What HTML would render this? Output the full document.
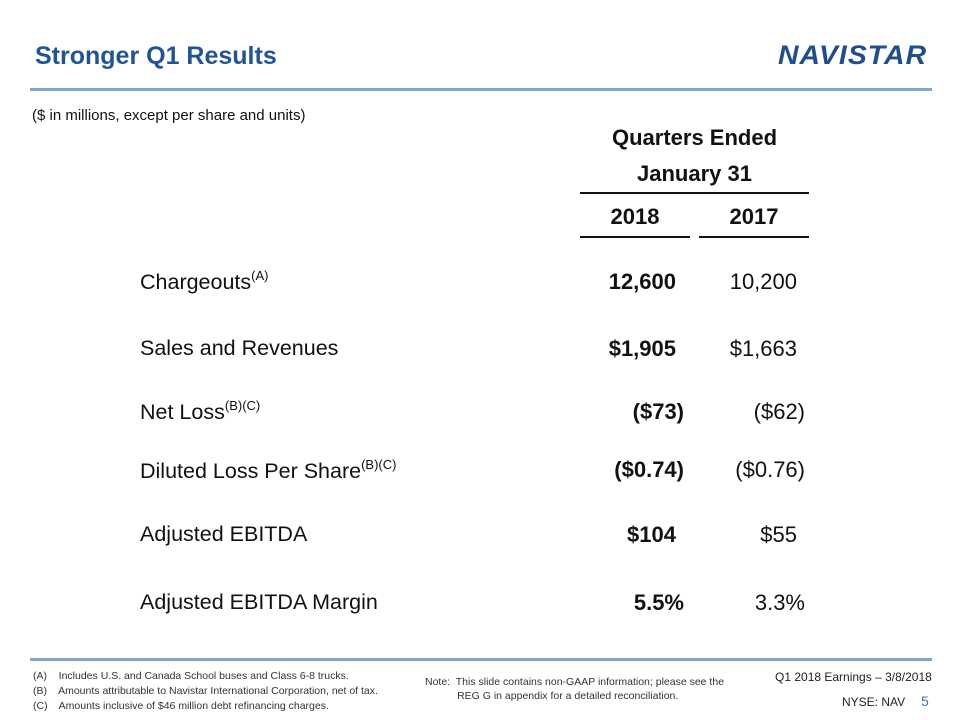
<!DOCTYPE html>
<html><head><meta charset="utf-8"><style>
body{margin:0;width:960px;height:720px;background:#fff;position:relative;overflow:hidden;font-family:"Liberation Sans",sans-serif;color:#111}
.a{position:absolute;white-space:nowrap}
.r{text-align:right}
.c{text-align:center}
.lbl{left:140px;font-size:21.5px}
.v{font-size:22px;width:200px}
.b{font-weight:bold}
sup{font-size:13px;vertical-align:9px}
.hl{position:absolute;height:2px;background:#111}
.fn{font-size:10.5px;color:#333}
</style></head><body>
<div class="a" style="left:35px;top:42px;font-size:25px;font-weight:bold;color:#1f5596">Stronger Q1 Results</div>
<div class="a" style="left:778px;top:40px;font-size:27px;font-weight:900;font-style:italic;color:#1f4e8c;letter-spacing:1px;transform:scaleX(1.05);transform-origin:left">NAVISTAR</div>
<div class="a" style="left:30px;top:88px;width:902px;height:3px;background:#7fa6cf"></div>
<div class="a" style="left:32px;top:107px;font-size:15px">($ in millions, except per share and units)</div>
<div class="a c" style="left:580px;top:120px;width:229px;font-size:22px;font-weight:bold;line-height:36px">Quarters Ended<br>January 31</div>
<div class="hl" style="left:580px;top:192px;width:229px"></div>
<div class="a c b" style="left:580px;top:204px;width:110px;font-size:22px">2018</div>
<div class="a c b" style="left:699px;top:204px;width:110px;font-size:22px">2017</div>
<div class="hl" style="left:580px;top:236px;width:110px"></div>
<div class="hl" style="left:699px;top:236px;width:110px"></div>

<div class="a lbl" style="top:268px">Chargeouts<sup>(A)</sup></div>
<div class="a v r b" style="left:476px;top:269px">12,600</div>
<div class="a v r" style="left:597px;top:269px">10,200</div>

<div class="a lbl" style="top:336px">Sales and Revenues</div>
<div class="a v r b" style="left:476px;top:336px">$1,905</div>
<div class="a v r" style="left:597px;top:336px">$1,663</div>

<div class="a lbl" style="top:398px">Net Loss<sup>(B)(C)</sup></div>
<div class="a v r b" style="left:484px;top:399px">($73)</div>
<div class="a v r" style="left:605px;top:399px">($62)</div>

<div class="a lbl" style="top:457px">Diluted Loss Per Share<sup>(B)(C)</sup></div>
<div class="a v r b" style="left:484px;top:457px">($0.74)</div>
<div class="a v r" style="left:605px;top:457px">($0.76)</div>

<div class="a lbl" style="top:522px">Adjusted EBITDA</div>
<div class="a v r b" style="left:476px;top:522px">$104</div>
<div class="a v r" style="left:597px;top:522px">$55</div>

<div class="a lbl" style="top:590px">Adjusted EBITDA Margin</div>
<div class="a v r b" style="left:484px;top:590px">5.5%</div>
<div class="a v r" style="left:605px;top:590px">3.3%</div>

<div class="a" style="left:30px;top:658px;width:902px;height:3px;background:#7fa6cf"></div>
<div class="a fn" style="left:33px;top:669px;line-height:15px">(A)&nbsp;&nbsp;&nbsp; Includes U.S. and Canada School buses and Class 6-8 trucks.<br>(B)&nbsp;&nbsp;&nbsp; Amounts attributable to Navistar International Corporation, net of tax.<br>(C)&nbsp;&nbsp;&nbsp; Amounts inclusive of $46 million debt refinancing charges.</div>
<div class="a fn" style="left:425px;top:675px;line-height:14px">Note:&nbsp; This slide contains non-GAAP information; please see the<br>&nbsp;&nbsp;&nbsp;&nbsp;&nbsp;&nbsp;&nbsp;&nbsp;&nbsp;&nbsp; REG G in appendix for a detailed reconciliation.</div>
<div class="a" style="left:775px;top:670px;font-size:12px;color:#222">Q1 2018 Earnings – 3/8/2018</div>
<div class="a" style="left:842px;top:695px;font-size:12px;color:#222">NYSE: NAV</div>
<div class="a" style="left:921px;top:693px;font-size:14px;color:#3a7abf">5</div>
</body></html>
